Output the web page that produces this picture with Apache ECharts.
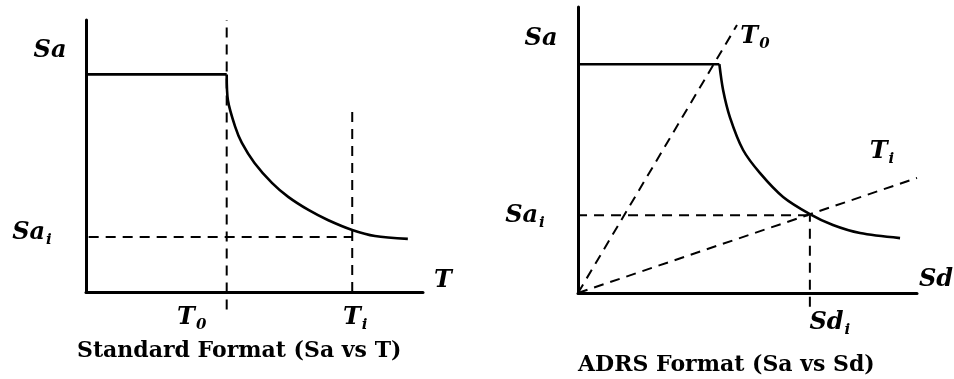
<!DOCTYPE html>
<html>
<head>
<meta charset="utf-8">
<script src="https://cdn.jsdelivr.net/npm/echarts@6/dist/echarts.min.js"></script>
<style>
  html, body { margin: 0; padding: 0; background: #fff; }
  #chart { width: 954px; height: 379px; }
</style>
</head>
<body>
<div id="chart"></div>
<script>
// Standard format: spectral acceleration against period
const stdPeriod = [0, 1.67, 1.685, 1.77, 1.85, 2.0, 2.21, 2.4, 2.64, 2.87, 3.16, 3.43, 3.82];
const stdSa     = [1.0, 1.0, 0.88, 0.76, 0.685, 0.593, 0.50, 0.437, 0.377, 0.331, 0.285, 0.257, 0.244];
const stdT0 = 1.67;
const stdTi = 3.16;
const stdSai = 0.253;
const stdTiGuideTop = 0.836;

// ADRS format: spectral acceleration against spectral displacement
const adrsSd = [0, 4.17, 4.28, 4.48, 4.87, 5.37, 6.05, 6.84, 7.52, 8.32, 9.5];
const adrsSa = [1.0, 1.0, 0.887, 0.769, 0.625, 0.524, 0.42, 0.345, 0.297, 0.262, 0.24];
const adrsT0Ray = [[0, 0], [4.69, 1.171]];
const adrsTiRay = [[0, 0], [10, 0.503]];
const adrsSdi = 6.84;
const adrsSai = 0.34;

// Axis extents
const periodRange = [0, 4];
const dispRange = [0, 10];
const accelRange = [0, 1.25];

const INK = '#000';
const SERIF = "'DejaVu Serif', 'Liberation Serif', serif";

const zip = (xs, ys) => xs.map((x, i) => [x, ys[i]]);
const stdPts = zip(stdPeriod, stdSa);
const adrsPts = zip(adrsSd, adrsSa);

const richStyles = {
  m: { fontFamily: SERIF, fontStyle: 'italic', fontWeight: 'bold', fontSize: 24, color: INK,
       opacity: 1, textBorderWidth: 0, textBorderColor: 'transparent' },
  s: { fontFamily: SERIF, fontStyle: 'italic', fontWeight: 'bold', fontSize: 15, color: INK,
       opacity: 1, textBorderWidth: 0, textBorderColor: 'transparent', padding: [14, 0, 0, 1] }
};

function solid(name, axis, data, smooth) {
  return {
    name, type: 'line', xAxisIndex: axis, yAxisIndex: axis, data,
    symbol: 'none', smooth: smooth ? 0.3 : false,
    clip: false, silent: true,
    lineStyle: { color: INK, width: 2.6 }
  };
}
function dashed(name, axis, data) {
  return {
    name, type: 'line', xAxisIndex: axis, yAxisIndex: axis, data,
    symbol: 'none', clip: false, silent: true,
    lineStyle: { color: INK, width: 2, type: [10, 7] }
  };
}
// text anchored at a data coordinate, shifted by a pixel offset
function labels(axis, items) {
  return {
    type: 'scatter', xAxisIndex: axis, yAxisIndex: axis, clip: false, silent: true,
    symbolSize: 0, itemStyle: { color: INK, opacity: 1 },
    data: items.map(it => ({
      value: it.at,
      label: {
        show: true, position: 'inside', offset: it.offset, opacity: 1,
        color: INK, textBorderWidth: 0, textBorderColor: 'transparent',
        formatter: it.text, rich: richStyles
      }
    }))
  };
}

function axisCommon(gridIndex, range) {
  return {
    type: 'value', gridIndex, min: range[0], max: range[1],
    axisLine: { show: true, onZero: false, lineStyle: { color: INK, width: 3 } },
    axisTick: { show: false }, axisLabel: { show: false }, splitLine: { show: false }
  };
}

const option = {
  animation: false,
  backgroundColor: '#fff',
  title: [
    { text: 'Standard Format (Sa vs T)', left: 77, top: 340, padding: 0,
      textStyle: { fontFamily: SERIF, fontWeight: 'bold', fontSize: 22, color: INK } },
    { text: 'ADRS Format (Sa vs Sd)', left: 578, top: 354, padding: 0,
      textStyle: { fontFamily: SERIF, fontWeight: 'bold', fontSize: 22, color: INK } }
  ],
  grid: [
    { left: 86, top: 20, width: 337, height: 272 },
    { left: 578, top: 7, width: 339, height: 286 }
  ],
  xAxis: [axisCommon(0, periodRange), axisCommon(1, dispRange)],
  yAxis: [axisCommon(0, accelRange), axisCommon(1, accelRange)],
  series: [
    // standard format panel
    labels(0, [
      { text: '{m|Sa}', at: [0, 1.11], offset: [-36, 0] },
      { text: '{m|Sa}{s|i}', at: [0, stdSai], offset: [-54, -4] },
      { text: '{m|T}', at: [periodRange[1], 0], offset: [20, -11] },
      { text: '{m|T}{s|0}', at: [stdT0, 0], offset: [-35, 26] },
      { text: '{m|T}{s|i}', at: [stdTi, 0], offset: [3, 26] }
    ]),
    solid('plateau', 0, stdPts.slice(0, 2), false),
    solid('decay', 0, stdPts.slice(1), true),
    dashed('T0 guide', 0, [[stdT0, -0.08], [stdT0, accelRange[1]]]),
    dashed('Ti guide', 0, [[stdTi, 0], [stdTi, stdTiGuideTop]]),
    dashed('Sai guide', 0, [[-0.17, stdSai], [stdTi, stdSai]]),
    // ADRS panel
    labels(1, [
      { text: '{m|Sa}', at: [0, 1.11], offset: [-37, 0] },
      { text: '{m|Sa}{s|i}', at: [0, adrsSai], offset: [-53, 1] },
      { text: '{m|Sd}', at: [dispRange[1], 0], offset: [19, -13] },
      { text: '{m|Sd}{s|i}', at: [adrsSdi, 0], offset: [20, 30] },
      { text: '{m|T}{s|0}', at: adrsT0Ray[1], offset: [18, 12] },
      { text: '{m|T}{s|i}', at: adrsTiRay[1], offset: [-35, -26] }
    ]),
    solid('plateau', 1, adrsPts.slice(0, 2), false),
    solid('decay', 1, adrsPts.slice(1), true),
    dashed('T0 ray', 1, adrsT0Ray),
    dashed('Ti ray', 1, adrsTiRay),
    dashed('Sai guide', 1, [[-0.53, adrsSai], [adrsSdi, adrsSai]]),
    dashed('Sdi guide', 1, [[adrsSdi, -0.06], [adrsSdi, adrsSai]])
  ]
};

const chart = echarts.init(document.getElementById('chart'), null, { renderer: 'canvas' });
chart.setOption(option);
</script>
</body>
</html>
